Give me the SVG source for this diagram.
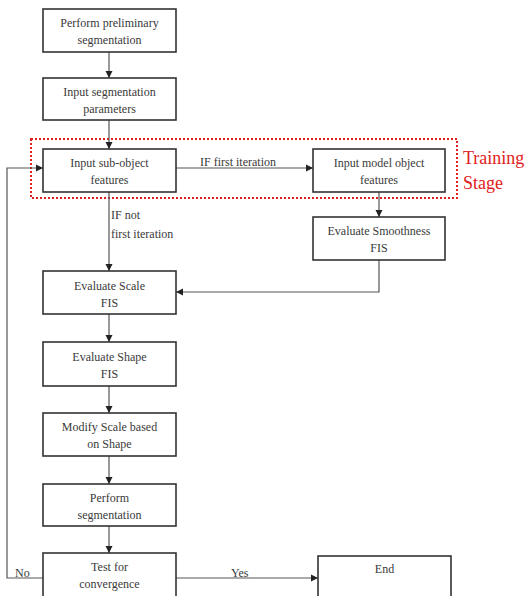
<svg xmlns="http://www.w3.org/2000/svg" width="530" height="596" viewBox="0 0 530 596">
<style>
.box{fill:#fff;stroke:#333;stroke-width:1.6}
.t{font-family:"Liberation Serif","Times New Roman",serif;font-size:12px;fill:#3a3a3a;text-anchor:middle}
.l{font-family:"Liberation Serif","Times New Roman",serif;font-size:12px;fill:#3a3a3a}
.c{fill:none;stroke:#555;stroke-width:1.2}
.red{font-family:"Liberation Serif","Times New Roman",serif;font-size:18px;fill:#e02020}
</style>
<defs>
<marker id="ar" markerWidth="8" markerHeight="8" refX="7" refY="4" orient="auto" markerUnits="userSpaceOnUse">
<path d="M0,0.5 L7,4 L0,7.5 Z" fill="#222"/>
</marker>
</defs>
<rect width="530" height="596" fill="#fff"/>
<g id="training">
<rect x="31" y="139" width="426" height="59" fill="none" stroke="#e02020" stroke-width="2" stroke-dasharray="2,2"/>
<text class="red" x="463" y="164">Training</text>
<text class="red" x="463" y="189">Stage</text>
</g>
<g id="connectors">
<path class="c" d="M109,52 V78" marker-end="url(#ar)"/>
<path class="c" d="M109,120 V149" marker-end="url(#ar)"/>
<path class="c" d="M176,168 H313" marker-end="url(#ar)"/>
<path class="c" d="M379,192 V217" marker-end="url(#ar)"/>
<path class="c" d="M109,192 V271" marker-end="url(#ar)"/>
<path class="c" d="M379,260 V292 H176" marker-end="url(#ar)"/>
<path class="c" d="M109,314 V342" marker-end="url(#ar)"/>
<path class="c" d="M109,386 V413" marker-end="url(#ar)"/>
<path class="c" d="M109,456 V484" marker-end="url(#ar)"/>
<path class="c" d="M109,526 V553" marker-end="url(#ar)"/>
<path class="c" d="M176,578 H318" marker-end="url(#ar)"/>
<path class="c" d="M43,578 H7 V168 H43" marker-end="url(#ar)"/>
<text class="l" x="200" y="166">IF first iteration</text>
<text class="l" x="111" y="219">IF not</text>
<text class="l" x="111" y="238">first iteration</text>
<text class="l" x="15" y="577">No</text>
<text class="l" x="231" y="577">Yes</text>
</g>
<g id="n1"><rect class="box" x="43" y="9" width="133" height="43"/><text class="t" x="109.5" y="27">Perform preliminary</text><text class="t" x="109.5" y="44">segmentation</text></g>
<g id="n2"><rect class="box" x="43" y="78" width="133" height="42"/><text class="t" x="109.5" y="96">Input segmentation</text><text class="t" x="109.5" y="113">parameters</text></g>
<g id="n3"><rect class="box" x="43" y="149" width="133" height="43"/><text class="t" x="109.5" y="167">Input sub-object</text><text class="t" x="109.5" y="184">features</text></g>
<g id="n4"><rect class="box" x="313" y="149" width="132" height="43"/><text class="t" x="379" y="167">Input model object</text><text class="t" x="379" y="184">features</text></g>
<g id="n5"><rect class="box" x="313" y="217" width="132" height="43"/><text class="t" x="379" y="235">Evaluate Smoothness</text><text class="t" x="379" y="252">FIS</text></g>
<g id="n6"><rect class="box" x="43" y="271" width="133" height="43"/><text class="t" x="109.5" y="290">Evaluate Scale</text><text class="t" x="109.5" y="307">FIS</text></g>
<g id="n7"><rect class="box" x="43" y="342" width="133" height="44"/><text class="t" x="109.5" y="361">Evaluate Shape</text><text class="t" x="109.5" y="378">FIS</text></g>
<g id="n8"><rect class="box" x="43" y="413" width="133" height="43"/><text class="t" x="109.5" y="431">Modify Scale based</text><text class="t" x="109.5" y="448">on Shape</text></g>
<g id="n9"><rect class="box" x="43" y="484" width="133" height="42"/><text class="t" x="109.5" y="502">Perform</text><text class="t" x="109.5" y="519">segmentation</text></g>
<g id="n10"><rect class="box" x="43" y="553" width="133" height="50"/><text class="t" x="109.5" y="571">Test for</text><text class="t" x="109.5" y="588">convergence</text></g>
<g id="n11"><rect class="box" x="318" y="556" width="133" height="50"/><text class="t" x="384.5" y="573">End</text></g>
</svg>
